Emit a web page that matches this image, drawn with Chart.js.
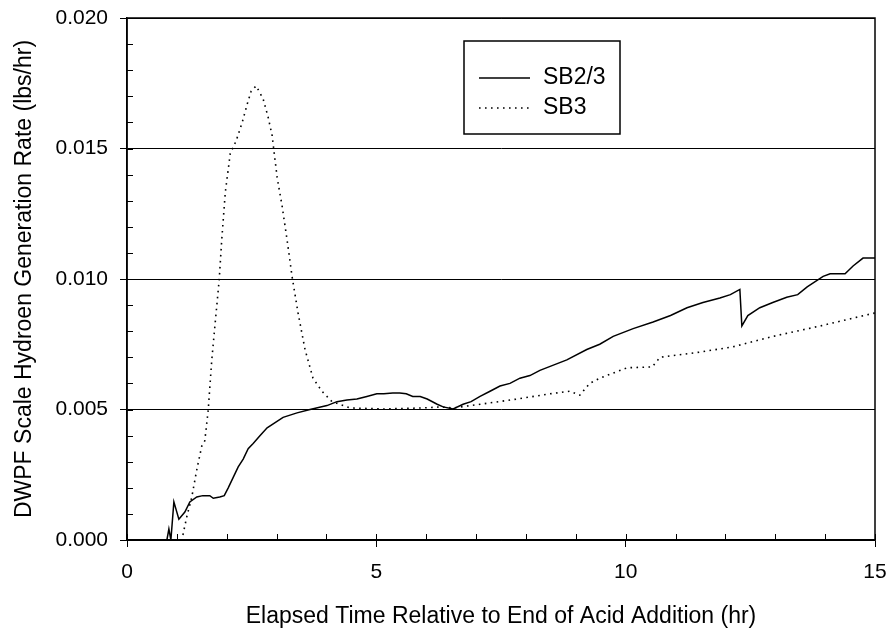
<!DOCTYPE html>
<html>
<head>
<meta charset="utf-8">
<script src="https://cdn.jsdelivr.net/npm/chart.js@4.4.1/dist/chart.umd.min.js"></script>
<style>
  body { margin: 0; background: #fff; }
  #wrap { width: 891px; height: 631px; }
</style>
</head>
<body>
<div id="wrap"><canvas id="chartCanvas" width="891" height="631"></canvas></div>
<script>
// waardes
const sb23Time = [0, 0.8, 0.84, 0.88, 0.94, 1.04, 1.16, 1.26, 1.40, 1.52, 1.66, 1.73, 1.86, 1.95, 2.03, 2.13, 2.23, 2.33, 2.43, 2.53, 2.67, 2.81, 2.97, 3.13, 3.41, 3.67, 4.01, 4.21, 4.41, 4.61, 4.81, 5.01, 5.15, 5.33, 5.47, 5.6, 5.73, 5.88, 6.02, 6.22, 6.34, 6.54, 6.74, 6.9, 7.08, 7.28, 7.48, 7.68, 7.88, 8.08, 8.28, 8.55, 8.82, 9.22, 9.48, 9.75, 10.15, 10.55, 10.9, 11.23, 11.55, 11.89, 12.1, 12.29, 12.33, 12.45, 12.69, 12.95, 13.23, 13.45, 13.64, 13.96, 14.1, 14.4, 14.56, 14.76, 15.0];
const sb23Rate = [0, 0, 0.00042, 0, 0.00146, 0.0008, 0.00107, 0.00146, 0.00165, 0.0017, 0.0017, 0.0016, 0.00165, 0.0017, 0.002, 0.0024, 0.0028, 0.0031, 0.0035, 0.0037, 0.0040, 0.0043, 0.0045, 0.0047, 0.00487, 0.0050, 0.00515, 0.0053, 0.00536, 0.0054, 0.0055, 0.0056, 0.0056, 0.00563, 0.00563, 0.0056, 0.0055, 0.0055, 0.0054, 0.0052, 0.0051, 0.00502, 0.0052, 0.0053, 0.0055, 0.0057, 0.0059, 0.006, 0.0062, 0.0063, 0.0065, 0.0067, 0.0069, 0.0073, 0.0075, 0.0078, 0.0081, 0.00835, 0.0086, 0.0089, 0.0091, 0.00927, 0.0094, 0.0096, 0.0082, 0.0086, 0.0089, 0.0091, 0.0093, 0.0094, 0.0097, 0.0101, 0.0102, 0.0102, 0.0105, 0.0108, 0.0108];

const sb3Time = [0, 1.1, 1.2, 1.3, 1.4, 1.5, 1.56, 1.63, 1.7, 1.85, 1.9, 1.97, 2.07, 2.19, 2.31, 2.41, 2.49, 2.59, 2.73, 2.83, 2.91, 3.01, 3.11, 3.21, 3.31, 3.43, 3.57, 3.73, 3.91, 4.11, 4.47, 5.13, 5.94, 6.28, 6.54, 7.08, 7.82, 8.48, 8.88, 9.08, 9.28, 9.48, 10.03, 10.53, 10.69, 11.49, 12.15, 12.95, 13.9, 15.0];
const sb3Rate = [0, 0, 0.0009, 0.00165, 0.0027, 0.0036, 0.0038, 0.005, 0.0069, 0.010, 0.0115, 0.0133, 0.0148, 0.0153, 0.016, 0.0167, 0.0172, 0.0174, 0.0169, 0.0162, 0.0155, 0.0139, 0.0128, 0.0115, 0.0101, 0.0087, 0.0073, 0.0062, 0.0057, 0.0053, 0.00506, 0.00502, 0.00506, 0.0051, 0.00506, 0.0052, 0.0054, 0.0056, 0.0057, 0.00555, 0.006, 0.0062, 0.0066, 0.00663, 0.007, 0.0072, 0.0074, 0.0078, 0.0082, 0.0087];

const seriesLabels = ['SB2/3', 'SB3'];
const xTicks = [0, 5, 10, 15];
const yTicks = [0, 0.005, 0.010, 0.015, 0.020];

const font = 'Liberation Sans, Arial, sans-serif';

function punten(xs, ys) {
  return xs.map((x, i) => ({ x: x, y: ys[i] }));
}

// kader, kleine streepjes en legenda
const kaderPlugin = {
  id: 'kader',
  afterDraw(chart) {
    const ctx = chart.ctx;
    const area = chart.chartArea;
    const xs = chart.scales.x;
    const ys = chart.scales.y;
    ctx.save();
    ctx.strokeStyle = '#000';
    ctx.lineWidth = 1.5;
    ctx.strokeRect(area.left, area.top, area.right - area.left, area.bottom - area.top);

    ctx.lineWidth = 1;
    ctx.beginPath();
    for (let i = 0; i <= 20; i++) {
      const py = Math.round(ys.getPixelForValue(i * 0.001)) + 0.5;
      ctx.moveTo(area.left, py);
      ctx.lineTo(area.left + 6, py);
    }
    for (let i = 0; i <= 15; i++) {
      const px = Math.round(xs.getPixelForValue(i)) + 0.5;
      ctx.moveTo(px, area.bottom);
      ctx.lineTo(px, area.bottom - 6);
    }
    ctx.stroke();

    // legenda
    const lx = 464, ly = 41, lw = 156, lh = 93;
    ctx.fillStyle = '#fff';
    ctx.fillRect(lx, ly, lw, lh);
    ctx.lineWidth = 1.5;
    ctx.strokeRect(lx, ly, lw, lh);
    chart.data.datasets.forEach((ds, i) => {
      const yy = ly + 37 + i * 30;
      ctx.beginPath();
      ctx.lineWidth = ds.borderWidth;
      ctx.setLineDash(ds.borderDash || []);
      ctx.moveTo(lx + 15, yy);
      ctx.lineTo(lx + 66, yy);
      ctx.stroke();
      ctx.setLineDash([]);
      ctx.fillStyle = '#000';
      ctx.font = '23px ' + font;
      ctx.textBaseline = 'middle';
      ctx.fillText(ds.label, lx + 79, yy);
    });
    ctx.restore();
  }
};

const ctx = document.getElementById('chartCanvas').getContext('2d');
new Chart(ctx, {
  type: 'line',
  data: {
    datasets: [{
      label: seriesLabels[0],
      data: punten(sb23Time, sb23Rate),
      borderColor: '#000',
      borderWidth: 1.5,
      pointRadius: 0,
      tension: 0
    }, {
      label: seriesLabels[1],
      data: punten(sb3Time, sb3Rate),
      borderColor: '#000',
      borderWidth: 1.6,
      borderDash: [1.6, 4.4],
      pointRadius: 0,
      tension: 0
    }]
  },
  options: {
    responsive: false,
    animation: false,
    layout: { padding: { left: 0, right: 16, top: 18, bottom: 0 } },
    plugins: {
      legend: { display: false },
      tooltip: { enabled: false }
    },
    scales: {
      x: {
        type: 'linear',
        min: 0,
        max: 15,
        afterBuildTicks: (s) => { s.ticks = xTicks.map(v => ({ value: v })); },
        afterFit: (s) => { s.height = 91; s.paddingLeft = 0; s.paddingRight = 0; },
        border: { display: true, color: '#000', width: 1.5 },
        grid: { drawOnChartArea: false, drawTicks: true, tickLength: 7, color: '#000', lineWidth: 1 },
        ticks: { color: '#000', font: { family: font, size: 21 }, padding: 13, maxRotation: 0 },
        title: {
          display: true,
          text: 'Elapsed Time Relative to End of Acid Addition (hr)',
          color: '#000',
          font: { family: font, size: 23 },
          padding: { top: 0, bottom: 1 }
        }
      },
      y: {
        min: 0,
        max: 0.020,
        afterBuildTicks: (s) => { s.ticks = yTicks.map(v => ({ value: v })); },
        afterFit: (s) => { s.width = 127; s.paddingTop = 0; s.paddingBottom = 0; },
        border: { display: true, color: '#000', width: 1.5 },
        grid: { drawOnChartArea: true, drawTicks: true, tickLength: 7, color: '#000', lineWidth: 1 },
        ticks: {
          color: '#000',
          font: { family: font, size: 21 },
          padding: 12,
          callback: (v) => v.toFixed(3)
        },
        title: {
          display: true,
          text: 'DWPF Scale Hydroen Generation Rate (lbs/hr)',
          color: '#000',
          font: { family: font, size: 23 },
          padding: { top: 11, bottom: 0 }
        }
      }
    }
  },
  plugins: [kaderPlugin]
});
</script>
</body>
</html>
